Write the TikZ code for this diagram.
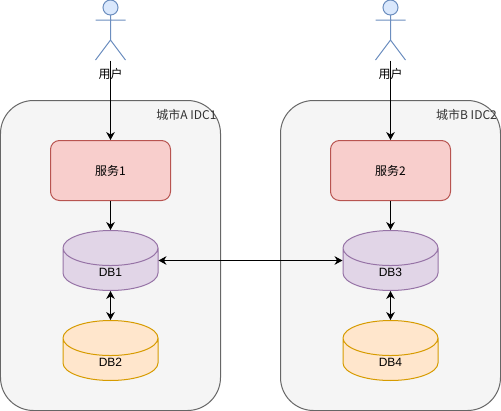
\documentclass[tikz,border=0pt]{standalone}
\usepackage{xcolor}
\usepackage{fontspec}
\setmainfont{Liberation Sans}
\newfontfamily\cjk{Noto Sans CJK SC}
\usetikzlibrary{shapes.geometric, arrows.meta}
\definecolor{idcgray}{HTML}{F5F5F5}
\definecolor{idcline}{HTML}{666666}
\definecolor{svcred}{HTML}{F8CECC}
\definecolor{svcline}{HTML}{B85450}
\definecolor{dbpurple}{HTML}{E1D5E7}
\definecolor{dbpurpleline}{HTML}{9673A6}
\definecolor{dborange}{HTML}{FFE6CC}
\definecolor{dborangeline}{HTML}{D79B00}
\definecolor{userblue}{HTML}{DAE8FC}
\definecolor{userline}{HTML}{6C8EBF}
\newcommand{\dbname}[1]{\smash{\raisebox{-5.35pt}{#1}}}

\begin{document}
\begin{tikzpicture}[
  x=0.75pt, y=-0.75pt, line width=0.75pt,
  idc/.style={rectangle, draw=idcline, fill=idcgray, rounded corners=24.75pt,
              minimum width=165pt, minimum height=232.5pt, inner sep=0pt},
  svc/.style={rectangle, draw=svcline, fill=svcred, rounded corners=6.75pt,
              font=\cjk\fontsize{9}{11}\selectfont, minimum width=90pt, minimum height=45pt, inner sep=0pt},
  db/.style={cylinder, shape border rotate=90, aspect=1.5, draw=#1line, fill=#1, anchor=shape center,
             font=\fontsize{9}{11}\selectfont, minimum width=71.25pt, minimum height=45pt, inner sep=0pt},
  tag/.style={font=\cjk\fontsize{9}{11}\selectfont, text=#1, inner sep=0pt},
  userbox/.style={rectangle, minimum width=22.5pt, minimum height=45pt, inner sep=0pt},
  actor/.pic={
    \draw[userline, fill=userblue] (0,-22.5) circle[radius=7.5];
    \draw[userline] (0,-15) -- (0,10) (-15,-10) -- (15,-10) (-15,30) -- (0,10) -- (15,30);
  },
  arr/.style={-{Stealth[length=6pt, width=6.5pt]}, black},
  biarr/.style={{Stealth[length=6pt, width=6.5pt]}-{Stealth[length=6pt, width=6.5pt]}, black},
]
  \useasboundingbox (0,0) rectangle (501,411);

  % city A and city B
  \node[idc] (idc1) at (110.5,255.5) {};
  \node[idc] (idc2) at (390.5,255.5) {};
  \node[tag=idcgray!20!black] (idc1lbl) at (186.5,114.5) {{\cjk 城市}A IDC1};
  \node[tag=idcgray!20!black] (idc2lbl) at (466.5,114.5) {{\cjk 城市}B IDC2};

  \node[userbox] (user1) at (110.5,30) {};
  \node[userbox] (user2) at (390.5,30) {};
  \pic at (user1) {actor};
  \pic at (user2) {actor};
  \node[tag=black] (user1lbl) at (110.5,74) {用户};
  \node[tag=black] (user2lbl) at (390.5,74) {用户};

  \node[svc] (svc1) at (110.5,170.5) {服务1};
  \node[svc] (svc2) at (390.5,170.5) {服务2};

  \node[db=dbpurple] (db1) at (110.5,260.5) {\dbname{DB1}};
  \node[db=dborange] (db2) at (110.5,350.5) {\dbname{DB2}};
  \node[db=dbpurple] (db3) at (390.5,260.5) {\dbname{DB3}};
  \node[db=dborange] (db4) at (390.5,350.5) {\dbname{DB4}};

  \draw[arr] (user1.south) -- (svc1.north);
  \draw[arr] (user2.south) -- (svc2.north);
  \draw[arr] (svc1.south) -- (db1.top);
  \draw[arr] (svc2.south) -- (db3.top);
  \draw[biarr] (db1.bottom) -- (db2.top);
  \draw[biarr] (db3.bottom) -- (db4.top);
  \draw[biarr] (db1.shape center -| db1.east) -- (db3.shape center -| db3.west);
\end{tikzpicture}
\end{document}
